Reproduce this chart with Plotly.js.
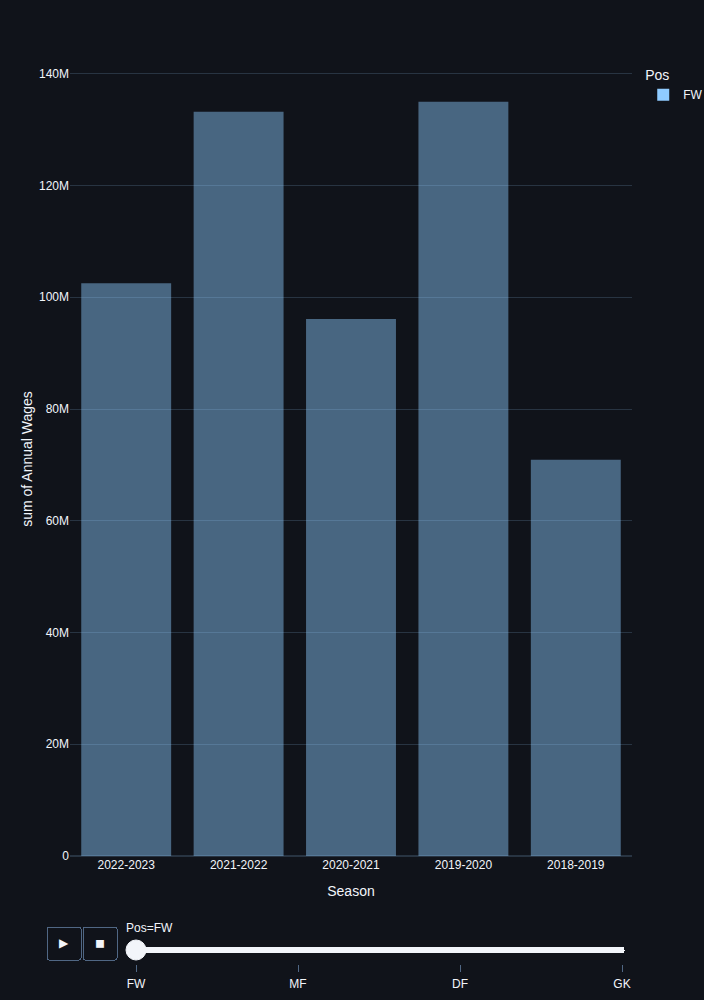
<!DOCTYPE html>
<html>
<head>
<script src="https://cdn.plot.ly/plotly-3.0.0.min.js"></script>
<style>body{margin:0;background:#10131a}</style>
</head>
<body>
<div id="chart" style="width:704px;height:1000px"></div>
<script>
const seasons = ['2022-2023', '2021-2022', '2020-2021', '2019-2020', '2018-2019'];
const fwWages = [102.5e6, 133.2e6, 96.1e6, 135.0e6, 70.9e6];
const positions = ['FW', 'MF', 'DF', 'GK'];

let trace = {
    type: 'bar',
    name: 'FW',
    x: seasons,
    y: fwWages,
    marker: {color: '#8fcbff', opacity: 0.45},
    showlegend: true,
    hovertemplate: 'Season=%{x}<br>sum of Annual Wages=%{y}<extra></extra>'
};

let layout = {
    width: 704,
    height: 1000,
    paper_bgcolor: '#10131a',
    plot_bgcolor: '#10131a',
    font: {family: 'Liberation Sans, Arial, sans-serif', color: '#f2f5fa', size: 12},
    margin: {l: 70, r: 72, t: 62, b: 144, autoexpand: false},
    xaxis: {title: {text: 'Season', standoff: 15}, showgrid: false, linecolor: '#506784', showline: false},
    yaxis: {title: {text: 'sum of Annual Wages'}, gridcolor: '#283442', zerolinecolor: '#283442', zerolinewidth: 2},
    legend: {title: {text: 'Pos'}, x: 1.02, y: 1, tracegroupgap: 0},
    bargap: 0.2,
    updatemenus: [{
        type: 'buttons', direction: 'left', showactive: false,
        x: 0.1, y: 0, xanchor: 'right', yanchor: 'top', pad: {r: 10, t: 70},
        bgcolor: '#10131a', bordercolor: '#506784', font: {color: '#f2f5fa'},
        buttons: [
            {label: '&#9654;', method: 'animate', args: [null, {frame: {duration: 500, redraw: true}, fromcurrent: true}]},
            {label: '&#9724;', method: 'animate', args: [[null], {mode: 'immediate', frame: {duration: 0, redraw: true}}]}
        ]
    }],
    sliders: [{
        active: 0, x: 0.1, y: 0, len: 0.9, xanchor: 'left', yanchor: 'top',
        pad: {b: 10, t: 60},
        currentvalue: {prefix: 'Pos=', visible: true, xanchor: 'left'},
        bgcolor: '#f2f5fa', bordercolor: '#f2f5fa', activebgcolor: '#f2f5fa',
        tickcolor: '#506784', font: {color: '#f2f5fa'},
        steps: positions.map(p => ({label: p, method: 'animate', args: [[p], {mode: 'immediate', frame: {duration: 0, redraw: true}}]}))
    }]
};

Plotly.newPlot('chart', [trace], layout, {displayModeBar: false}).then(function (gd) {
    Plotly.addFrames(gd, [{name: 'FW', data: [trace]}]);
});
</script>
</body>
</html>
